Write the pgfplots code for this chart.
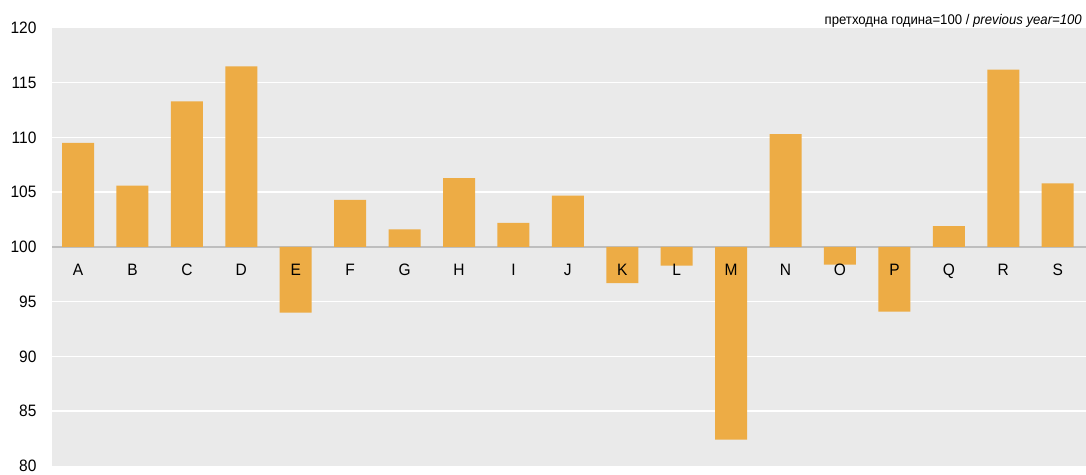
\documentclass[border=0pt]{standalone}
\usepackage{fontspec}
\setmainfont[FakeStretch=0.94]{Liberation Sans}
\usepackage{pgfplots}
\pgfplotsset{compat=1.18}
\definecolor{bg}{RGB}{234,234,234}
\definecolor{barc}{RGB}{237,172,69}
\definecolor{base}{RGB}{190,190,190}
\pgfplotsset{common/.style={
  scale only axis, width=1034pt, height=438pt,
  xmin=-0.478, xmax=18.52, ymin=-20, ymax=20,
  major tick length=0pt,
  xtick={0,...,18},
}}
\begin{document}
\begin{tikzpicture}
\begin{axis}[
  name=ax, common,
  y filter/.expression={y-100},
  axis background/.style={fill=bg},
  axis x line*=middle, axis y line*=left,
  x axis line style={draw=base, line width=1.2pt},
  y axis line style={draw=none},
  ytick={-20,-15,...,20},
  yticklabel={\pgfmathparse{\tick+100}\pgfmathprintnumber[assume math mode=true]{\pgfmathresult}},
  yticklabel style={font=\fontsize{16.5}{18}\selectfont, xshift=-12pt},
  extra y ticks={-15,-10,-5,5,10,15},
  extra y tick labels={},
  extra y tick style={ymajorgrids=true, major grid style={white, line width=1.5pt}},
  xticklabels={},
  ybar, bar width=32pt,
]
\addplot[fill=barc, draw=none] coordinates {
 (0,109.5) (1,105.6) (2,113.3) (3,116.5) (4,94.0) (5,104.3) (6,101.6)
 (7,106.3) (8,102.2) (9,104.7) (10,96.7) (11,98.3) (12,82.4) (13,110.3)
 (14,98.4) (15,94.1) (16,101.9) (17,116.2) (18,105.8)
};
\end{axis}
\begin{axis}[
  common,
  axis x line*=middle, axis y line=none,
  x axis line style={draw=none},
  ytick=\empty,
  xticklabels={A,B,C,D,E,F,G,H,I,J,K,L,M,N,O,P,Q,R,S},
  xticklabel style={font=\fontsize{16.5}{18}\selectfont, anchor=base, yshift=-29pt},
]
\end{axis}
\node[anchor=base east, inner sep=0pt, font=\fontsize{14}{16}\selectfont]
  at ([xshift=-4pt, yshift=3.5pt]ax.north east)
  {претходна година=100 / \textit{previous year=100}};
\pgfresetboundingbox
\path ([xshift=-52pt,yshift=-9pt]ax.south west) rectangle ([yshift=28pt]ax.north east);
\end{tikzpicture}
\end{document}
